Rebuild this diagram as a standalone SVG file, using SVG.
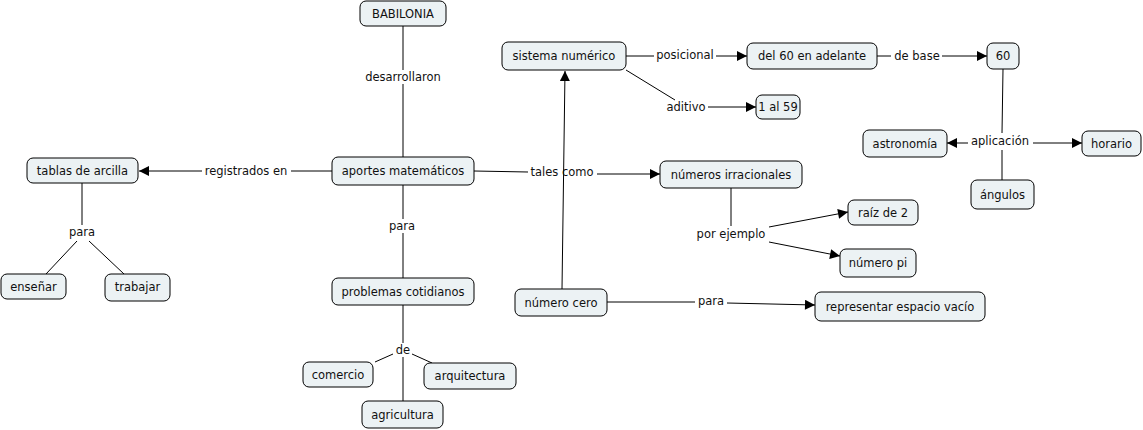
<svg xmlns="http://www.w3.org/2000/svg" width="1143" height="430" viewBox="0 0 1143 430">
<style>
.n rect{fill:#ecf2f4;stroke:#000;stroke-width:1}
text{font-family:"DejaVu Sans",Verdana,sans-serif;font-size:11.5px;fill:#111;text-anchor:middle}
.c line{stroke:#000;stroke-width:1;fill:none}
.a{marker-end:url(#ah)}
</style>
<defs>
<marker id="ah" viewBox="0 0 10 10" refX="10" refY="5" markerWidth="11" markerHeight="10" markerUnits="userSpaceOnUse" orient="auto">
<path d="M0,0 L10,5 L0,10 Z" fill="#000"/>
</marker>
</defs>
<rect width="1143" height="430" fill="#fff"/>
<g id="connectors" class="c">
<line x1="403" y1="26" x2="403" y2="70"/>
<line x1="403" y1="84" x2="403" y2="157"/>
<line x1="332" y1="171" x2="291" y2="171"/>
<line class="a" x1="202" y1="171" x2="139" y2="171"/>
<line x1="82" y1="183" x2="82" y2="225"/>
<line x1="77" y1="241" x2="46" y2="274"/>
<line x1="89" y1="241" x2="124" y2="274"/>
<line x1="403" y1="185" x2="403" y2="219"/>
<line x1="403" y1="233" x2="403" y2="278"/>
<line x1="403" y1="305" x2="403" y2="343"/>
<line x1="393" y1="354" x2="375" y2="362"/>
<line x1="412" y1="354" x2="432" y2="363"/>
<line x1="403" y1="357" x2="403" y2="401"/>
<line x1="474" y1="171" x2="528" y2="172"/>
<line class="a" x1="597" y1="174" x2="660" y2="174"/>
<line class="a" x1="562" y1="289" x2="565" y2="71"/>
<line x1="626" y1="56" x2="654" y2="56"/>
<line class="a" x1="716" y1="56" x2="747" y2="56"/>
<line x1="626" y1="70" x2="675" y2="100"/>
<line class="a" x1="708" y1="107" x2="756" y2="107"/>
<line x1="877" y1="56" x2="891" y2="56"/>
<line class="a" x1="942" y1="56" x2="987" y2="56"/>
<line x1="1003" y1="69" x2="1002" y2="133"/>
<line class="a" x1="968" y1="143" x2="947" y2="143"/>
<line class="a" x1="1033" y1="143" x2="1082" y2="143"/>
<line x1="1002" y1="150" x2="1002" y2="180"/>
<line x1="731" y1="188" x2="731" y2="226"/>
<line class="a" x1="769" y1="227" x2="848" y2="212"/>
<line class="a" x1="769" y1="242" x2="840" y2="256"/>
<line x1="607" y1="302" x2="695" y2="302"/>
<line class="a" x1="727" y1="303" x2="815" y2="305"/>
</g>
<g id="labels">
<text x="403" y="81">desarrollaron</text>
<text x="246" y="175">registrados en</text>
<text x="82" y="236">para</text>
<text x="402" y="230">para</text>
<text x="403" y="354">de</text>
<text x="562" y="176">tales como</text>
<text x="685" y="59">posicional</text>
<text x="686" y="111">aditivo</text>
<text x="917" y="60">de base</text>
<text x="1000" y="145">aplicación</text>
<text x="731" y="238">por ejemplo</text>
<text x="711" y="305">para</text>
</g>
<g id="babilonia" class="n"><rect x="360" y="1" width="86" height="25" rx="6"/><text x="403" y="18">BABILONIA</text></g>
<g id="aportes" class="n"><rect x="332" y="157" width="142" height="28" rx="6"/><text x="403" y="175">aportes matemáticos</text></g>
<g id="tablas" class="n"><rect x="27" y="158" width="111" height="25" rx="6"/><text x="82.5" y="175">tablas de arcilla</text></g>
<g id="ensenar" class="n"><rect x="1" y="274" width="65" height="25" rx="6"/><text x="33.5" y="291">enseñar</text></g>
<g id="trabajar" class="n"><rect x="105" y="274" width="65" height="27" rx="6"/><text x="137.5" y="291">trabajar</text></g>
<g id="problemas" class="n"><rect x="332" y="278" width="142" height="27" rx="6"/><text x="403" y="296">problemas cotidianos</text></g>
<g id="comercio" class="n"><rect x="303" y="362" width="70" height="25" rx="6"/><text x="338" y="379">comercio</text></g>
<g id="arquitectura" class="n"><rect x="424" y="363" width="92" height="26" rx="6"/><text x="470" y="380">arquitectura</text></g>
<g id="agricultura" class="n"><rect x="362" y="401" width="81" height="27" rx="6"/><text x="402.5" y="419">agricultura</text></g>
<g id="sistema" class="n"><rect x="502" y="42" width="124" height="28" rx="6"/><text x="564" y="60">sistema numérico</text></g>
<g id="del60" class="n"><rect x="747" y="43" width="130" height="26" rx="6"/><text x="812" y="60">del 60 en adelante</text></g>
<g id="n60" class="n"><rect x="987" y="43" width="32" height="26" rx="6"/><text x="1003" y="60">60</text></g>
<g id="uno59" class="n"><rect x="756" y="95" width="44" height="24" rx="6"/><text x="778" y="111">1 al 59</text></g>
<g id="astronomia" class="n"><rect x="863" y="130" width="84" height="27" rx="6"/><text x="905" y="148">astronomía</text></g>
<g id="horario" class="n"><rect x="1082" y="131" width="59" height="25" rx="6"/><text x="1111.5" y="148">horario</text></g>
<g id="angulos" class="n"><rect x="971" y="180" width="63" height="29" rx="6"/><text x="1002.5" y="199">ángulos</text></g>
<g id="irracionales" class="n"><rect x="660" y="161" width="142" height="27" rx="6"/><text x="731" y="179">números irracionales</text></g>
<g id="raiz2" class="n"><rect x="848" y="200" width="70" height="25" rx="6"/><text x="883" y="217">raíz de 2</text></g>
<g id="pi" class="n"><rect x="840" y="249" width="76" height="28" rx="6"/><text x="878" y="267">número pi</text></g>
<g id="cero" class="n"><rect x="515" y="289" width="92" height="27" rx="6"/><text x="561" y="307">número cero</text></g>
<g id="representar" class="n"><rect x="815" y="292" width="170" height="29" rx="6"/><text x="900" y="311">representar espacio vacío</text></g>
</svg>
